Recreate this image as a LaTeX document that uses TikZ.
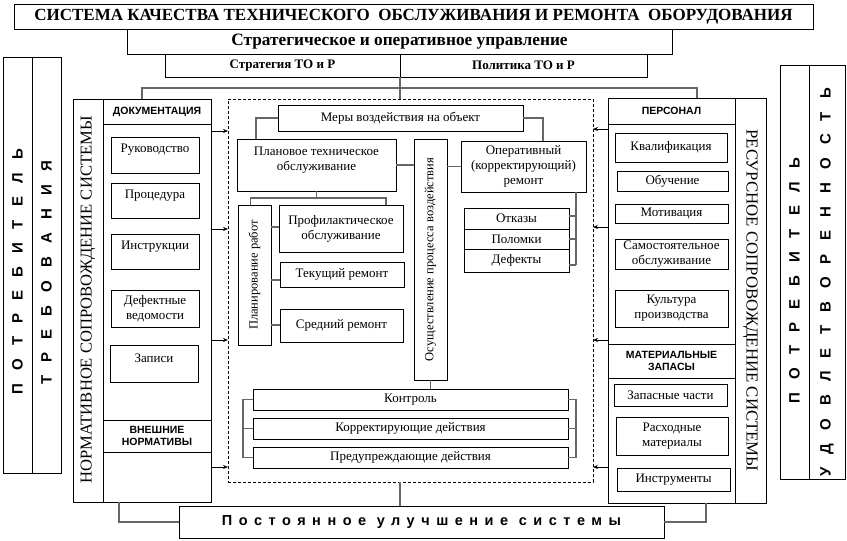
\documentclass[tikz,border=0pt]{standalone}
\usepackage{fontspec}
\setmainfont{Liberation Serif}
\newfontfamily\sansf{Liberation Sans}
\usetikzlibrary{arrows.meta,calc}
\newcommand\bx[7][]{\node[box,minimum width={(#5-#3)*1pt},minimum height={(#6-#4)*1pt},#1] (#2) at ({(#3+#5)/2},{(#4+#6)/2}) {#7};}
\newcommand\up[1]{\raisebox{5pt}[\height][\depth]{#1}}
\begin{document}
\begin{tikzpicture}[x=1pt,y=-1pt,
 box/.style={draw,line width=0.8pt,inner sep=1pt,outer sep=0pt,align=center,font=\fontsize{13}{15}\selectfont},
 hdr/.style={font=\sansf\bfseries\fontsize{10.5}{12.5}\selectfont},
 con/.style={draw=black!60,line width=1.3pt},
 arr/.style={draw,line width=0.7pt,-{Stealth[length=5pt,width=4pt]}},
 vtxt/.style={inner sep=0pt},
 spaced/.style={inner sep=0pt,font=\sansf\bfseries\fontsize{15}{15}\selectfont\addfontfeature{LetterSpace=88}},
]
\useasboundingbox (0,0) rectangle (847,541);
% top
\bx[font=\bfseries\fontsize{17}{19}\selectfont]{title}{14}{4}{813}{29}{СИСТЕМА КАЧЕСТВА ТЕХНИЧЕСКОГО\ \ ОБСЛУЖИВАНИЯ И РЕМОНТА\ \ ОБОРУДОВАНИЯ}
\bx[font=\bfseries\fontsize{17.3}{19}\selectfont]{strat}{127}{29}{672}{54}{Стратегическое и оперативное управление}
\bx[font=\bfseries\fontsize{13}{15}\selectfont]{strto}{165}{54}{400}{77}{Стратегия ТО и Р}
\bx[font=\bfseries\fontsize{13}{15}\selectfont]{pol}{400}{54}{647}{77}{Политика ТО и Р}
% far left
\bx{potl}{3}{57}{32}{473}{}
\bx{treb}{32}{57}{61}{473}{}
\node[spaced,rotate=90] at (17.5,272) {ПОТРЕБИТЕЛЬ};
\node[spaced,rotate=90] at (46.5,273) {ТРЕБОВАНИЯ};
% far right
\bx{potr}{780}{65}{809}{479}{}
\bx{udov}{809}{65}{845}{479}{}
\node[spaced,rotate=90] at (794.5,281) {ПОТРЕБИТЕЛЬ};
\node[spaced,rotate=90] at (827,282) {УДОВЛЕТВОРЕННОСТЬ};
% left main
\bx{nsys}{73}{99}{103}{502}{}
\node[vtxt,rotate=90,font=\fontsize{16.6}{16.6}\selectfont] at ($(nsys.center)+(0,-0.5)$) {НОРМАТИВНОЕ СОПРОВОЖДЕНИЕ СИСТЕМЫ};
\bx{docs}{103}{99}{211}{502}{}
\bx[hdr]{dochead}{103}{99}{211}{124}{ДОКУМЕНТАЦИЯ}
\bx{ruk}{111}{137}{199}{173}{\up{Руководство}}
\bx{proc}{111}{183}{199}{218}{\up{Процедура}}
\bx{instr}{111}{234}{199}{269}{\up{Инструкции}}
\bx{defv}{111}{290}{199}{327}{Дефектные\\ведомости}
\bx{zap}{110}{345}{198}{382}{\up{Записи}}
\bx[hdr]{vnesh}{103}{420}{211}{452}{ВНЕШНИЕ\\НОРМАТИВЫ}
% right main
\bx{res}{608}{98}{735}{503}{}
\bx{rcol}{735}{98}{766}{503}{}
\node[vtxt,rotate=-90,font=\fontsize{16.8}{16.8}\selectfont] at (rcol.center) {РЕСУРСНОЕ СОПРОВОЖДЕНИЕ СИСТЕМЫ};
\bx[hdr]{perhead}{608}{98}{735}{124}{ПЕРСОНАЛ}
\bx{kval}{615}{133}{727}{162}{Квалификация}
\bx{obuch}{617}{171}{728}{191}{Обучение}
\bx{motiv}{615}{204}{728}{223}{Мотивация}
\bx{samo}{615}{239}{728}{269}{Самостоятельное\\обслуживание}
\bx{kult}{615}{290}{728}{327}{Культура\\производства}
\bx[hdr]{mathead}{608}{344}{735}{378}{МАТЕРИАЛЬНЫЕ\\ЗАПАСЫ}
\bx{zch}{614}{384}{727}{406}{Запасные части}
\bx{rash}{616}{417}{728}{455}{Расходные\\материалы}
\bx{instrum}{617}{468}{730}{491}{Инструменты}
% centre
\bx[draw,dashed,line width=0.7pt,dash pattern=on 3pt off 2pt]{frame}{228}{99}{593}{482}{}
\bx{mery}{278}{105}{523}{131}{Меры воздействия на объект}
\bx{plan}{237}{139}{396}{191}{\up{\begin{tabular}{@{}c@{}}Плановое техническое\\обслуживание\end{tabular}}}
\bx{osu}{414}{139}{447}{380}{}
\node[inner sep=0pt,rotate=90,font=\fontsize{12.5}{12.5}\selectfont] at (osu.center) {Осуществление процесса воздействия};
\bx{oper}{461}{141}{586}{192}{Оперативный\\(корректирующий)\\ремонт}
\bx{otk}{464}{208}{569}{229}{Отказы}
\bx{polom}{464}{229}{569}{249}{Поломки}
\bx{defe}{464}{249}{569}{272}{Дефекты}
\bx{planir}{238}{205}{271}{345}{}
\node[inner sep=0pt,rotate=90,font=\fontsize{12.5}{12.5}\selectfont] at (planir.center) {Планирование работ};
\bx{prof}{279}{205}{403}{252}{Профилактическое\\обслуживание}
\bx{tek}{280}{262}{404}{287}{Текущий ремонт}
\bx{sred}{280}{309}{403}{342}{Средний ремонт}
\bx{kont}{253}{389}{568}{410}{Контроль}
\bx{korr}{253}{418}{568}{439}{Корректирующие действия}
\bx{pred}{253}{447}{568}{468}{Предупреждающие действия}
\bx[font=\sansf\bfseries\fontsize{14.5}{16}\selectfont\addfontfeature{LetterSpace=45}]{bott}{179}{506}{664}{538}{Постоянное улучшение системы}
% connectors
\draw[con] (strto.south east) -- (strto.south east |- frame.north);
\draw[con] ($(docs.north west)+(39,0)$) -- ++(0,-11) -| ($(res.north west)+(89,0)$);
\draw[con] (mery.west) -| ($(plan.north west)+(19,0)$);
\draw[con] (mery.east) -| ($(oper.north west)+(82,0)$);
\draw[con] (plan.east) -- (plan.east -| osu.west);
\draw[con] (osu.east |- oper.west) -- (oper.west);
\draw[con] (plan.south) -- ++(0,7) coordinate (pb);
\draw[con] ($(planir.north)+(-4,0)$) |- (pb) -| ($(prof.north west)+(107,0)$);
\draw[con] (planir.east |- 0,227) -- (prof.west |- 0,227);
\draw[con] (planir.east |- 0,280) -- (tek.west |- 0,280);
\draw[con] (planir.east |- 0,325) -- (sred.west |- 0,325);
\draw[con] ($(oper.south west)+(115,0)$) coordinate (ob) -- (ob |- 0,265) coordinate (oe);
\draw[con] (otk.east |- 0,216) -- (ob |- 0,216);
\draw[con] (polom.east |- 0,239) -- (ob |- 0,239);
\draw[con] (defe.east |- 0,265) -- (oe);
\draw[con] (osu.south) -- (osu.south |- kont.north);
\draw[con] (kont.west) -- ++(-10,0) |- (pred.west);
\draw[con] (korr.west) -- ++(-10,0);
\draw[con] (kont.east) -- ++(8,0) |- (pred.east);
\draw[con] (korr.east) -- ++(8,0);
\draw[con] (frame.south -| pol.west) -- (bott.north -| pol.west);
\draw[con] (bott.west) -| ($(docs.south west)+(16,0)$);
\draw[con] (bott.east) -| ($(res.south east)+(-29,0)$);
% arrows
\foreach \yy in {131,229,340,467} \draw[arr] (docs.east |- 0,\yy) -- (frame.west |- 0,\yy);
\foreach \yy in {129,227,340,467} \draw[arr] (res.west |- 0,\yy) -- (frame.east |- 0,\yy);
\end{tikzpicture}
\end{document}
